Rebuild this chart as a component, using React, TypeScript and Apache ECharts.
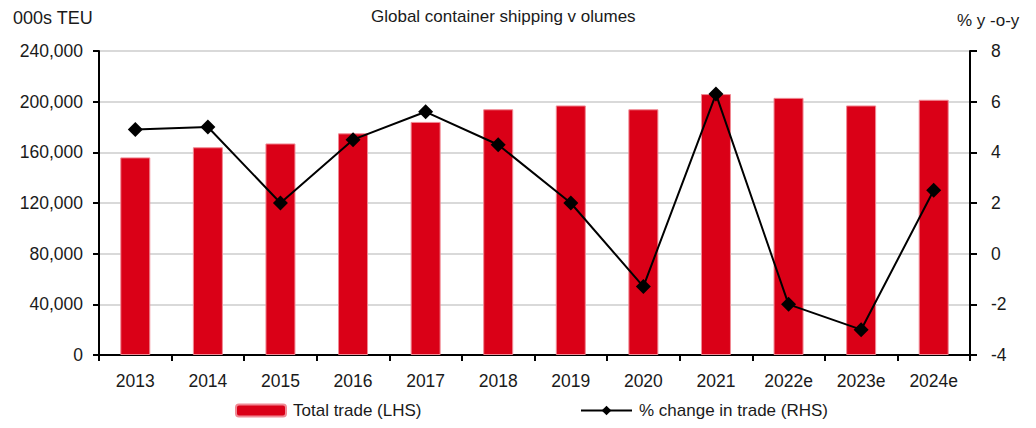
import React, { useEffect, useRef } from "react";
import * as echarts from "echarts";

const categories = ["2013", "2014", "2015", "2016", "2017", "2018", "2019", "2020", "2021", "2022e", "2023e", "2024e"];
const totalTrade = [156000, 164000, 167000, 175000, 184000, 194000, 197000, 194000, 206000, 203000, 197000, 201500];
const pctChange = [4.9, 5.0, 2.0, 4.5, 5.6, 4.3, 2.0, -1.3, 6.3, -2.0, -3.0, 2.5];
const leftTicks = { min: 0, max: 240000, interval: 40000 };
const rightTicks = { min: -4, max: 8, interval: 2 };

const FONT = "'Liberation Sans', Arial, Helvetica, sans-serif";
const RED = "#DA0017";
const TXT = "#1a1a1a";

export default function App() {
  const ref = useRef<HTMLDivElement>(null);
  useEffect(() => {
    if (!ref.current) return;
    const chart = echarts.init(ref.current, null, { renderer: "svg" });
    chart.setOption({
      animation: false,
      backgroundColor: "#ffffff",
      textStyle: { fontFamily: FONT },
      grid: { left: 99, right: 66, top: 51, bottom: 73, containLabel: false },
      graphic: [
        { type: "text", left: 13, top: 9, style: { text: "000s TEU", font: `18px ${FONT}`, fill: TXT } },
        { type: "text", left: 957, top: 12, style: { text: "% y -o-y", font: `17px ${FONT}`, fill: TXT } },
        { type: "text", left: 371, top: 8, style: { text: "Global container shipping v olumes", font: `17px ${FONT}`, fill: TXT } },
      ],
      legend: [
        {
          left: 235,
          top: 402,
          padding: 0,
          itemWidth: 50,
          itemHeight: 12,
          data: ["Total trade (LHS)"],
          textStyle: { fontFamily: FONT, fontSize: 17, color: TXT, padding: [0, 0, 0, 2] },
        },
        {
          left: 580,
          top: 402,
          padding: 0,
          itemWidth: 51,
          itemHeight: 12,
          data: ["% change in trade (RHS)"],
          textStyle: { fontFamily: FONT, fontSize: 17, color: TXT, padding: [0, 0, 0, 2] },
        },
      ],
      xAxis: {
        type: "category",
        data: categories,
        boundaryGap: true,
        axisLine: { lineStyle: { color: "#000", width: 2 } },
        axisTick: { show: true, length: 6, lineStyle: { color: "#000", width: 2 } },
        axisLabel: { fontFamily: FONT, fontSize: 17.5, color: TXT, margin: 17 },
        splitLine: { show: false },
      },
      yAxis: [
        {
          type: "value",
          min: leftTicks.min,
          max: leftTicks.max,
          interval: leftTicks.interval,
          position: "left",
          axisLine: { show: true, lineStyle: { color: "#000", width: 2 } },
          axisTick: { show: true, length: 6, lineStyle: { color: "#000", width: 2 } },
          axisLabel: {
            fontFamily: FONT,
            fontSize: 17.5,
            color: TXT,
            margin: 16,
            formatter: (v: number) => v.toLocaleString("en-US"),
          },
          splitLine: { show: true, lineStyle: { color: "#d9d9d9", width: 2 } },
        },
        {
          type: "value",
          min: rightTicks.min,
          max: rightTicks.max,
          interval: rightTicks.interval,
          position: "right",
          axisLine: { show: true, lineStyle: { color: "#000", width: 2 } },
          axisTick: { show: true, length: 7, lineStyle: { color: "#000", width: 2 } },
          axisLabel: { fontFamily: FONT, fontSize: 17.5, color: TXT, margin: 21 },
          splitLine: { show: false },
        },
      ],
      series: [
        {
          name: "Total trade (LHS)",
          type: "bar",
          yAxisIndex: 0,
          data: totalTrade,
          barWidth: 30,
          itemStyle: { color: RED, borderColor: "#f08a95", borderWidth: 1 },
          z: 2,
        },
        {
          name: "% change in trade (RHS)",
          type: "line",
          yAxisIndex: 1,
          data: pctChange,
          symbol: "diamond",
          symbolSize: 15,
          lineStyle: { color: "#000", width: 2 },
          itemStyle: { color: "#000" },
          z: 3,
        },
      ],
    });
    return () => chart.dispose();
  }, []);
  return <div ref={ref} style={{ width: 1036, height: 428, position: "absolute", left: 0, top: 0 }} />;
}
